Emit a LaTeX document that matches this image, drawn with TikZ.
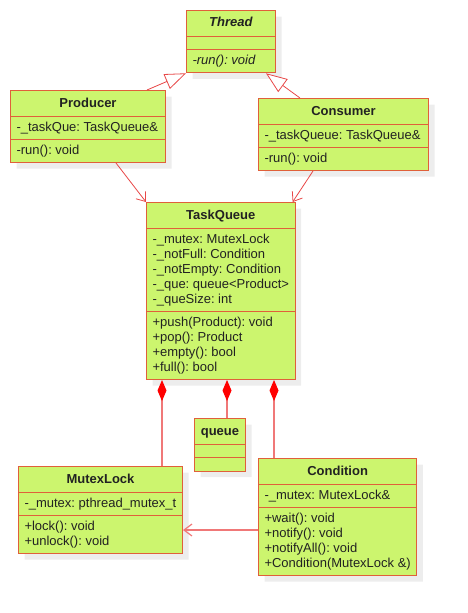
\documentclass[tikz,border=0pt]{standalone}
\usepackage{fontspec}
\setmainfont{Liberation Sans}
\usetikzlibrary{shapes.multipart,arrows.meta,positioning,calc,shadows}

\definecolor{classfill}{HTML}{CCF56E}
\definecolor{classline}{HTML}{E0603A}
\definecolor{relline}{HTML}{E84848}
\definecolor{compline}{HTML}{F07878}
\definecolor{textcol}{HTML}{222222}

\newcommand{\rowstrut}{\rule[-4pt]{0pt}{15pt}}
\newcommand{\titlestrut}{\rule[-5.5pt]{0pt}{18pt}}

\tikzset{
  umlclass/.style={rectangle split, rectangle split parts=3,
    rectangle split part align={center,left,left},
    rectangle split empty part height=3pt, rectangle split empty part depth=0pt,
    draw=classline, fill=classfill, line width=1pt, inner xsep=6pt, inner ysep=3.5pt,
    align=left, anchor=north west, text=textcol, font=\fontsize{13}{15}\selectfont\frenchspacing,
    drop shadow={shadow xshift=6pt, shadow yshift=-6pt, fill=black!7, opacity=1}},
  inherit/.style={draw=relline, line width=0.8pt, -{Triangle[open,length=21pt,width=16pt,fill=white]}},
  navig/.style={draw=relline, line width=0.8pt, -{Straight Barb[length=8pt,width=12pt]}},
  compose/.style={draw=compline, line width=1.2pt, {Diamond[length=21pt,width=9pt,color=red,fill=red]}-},
}

\begin{document}
\begin{tikzpicture}[x=1pt, y=-1pt]
    \useasboundingbox (0,0) rectangle (467,613);

    % Classes
    \node[umlclass, minimum width=89pt] (thread) at (186,10)
        {\titlestrut\textbf{\textit{Thread}}\nodepart{second}\nodepart{third}\rowstrut\textit{-run(): void}};
    \node[umlclass, minimum width=155pt] (producer) at (10,90)
        {\titlestrut\textbf{Producer}\nodepart{second}\rowstrut-\_taskQue: TaskQueue\&\nodepart{third}\rowstrut-run(): void};
    \node[umlclass, minimum width=170pt] (consumer) at (258,98)
        {\titlestrut\textbf{Consumer}\nodepart{second}\rowstrut-\_taskQueue: TaskQueue\&\nodepart{third}\rowstrut-run(): void};
    \node[umlclass, minimum width=148pt] (taskqueue) at (146,202)
        {\titlestrut\textbf{TaskQueue}
         \nodepart{second}\rowstrut-\_mutex: MutexLock\\ \rowstrut-\_notFull: Condition\\ \rowstrut-\_notEmpty: Condition\\
           \rowstrut-\_que: queue<Product>\\ \rowstrut-\_queSize: int
         \nodepart{third}\rowstrut+push(Product): void\\ \rowstrut+pop(): Product\\ \rowstrut+empty(): bool\\ \rowstrut+full(): bool};
    \node[umlclass, minimum width=51pt] (queue) at (194,418)
        {\titlestrut\textbf{queue}\nodepart{second}\nodepart{third}};
    \node[umlclass, minimum width=164pt] (mutexlock) at (18,466)
        {\titlestrut\textbf{MutexLock}\nodepart{second}\rowstrut-\_mutex: pthread\_mutex\_t
         \nodepart{third}\rowstrut+lock(): void\\ \rowstrut+unlock(): void};
    \node[umlclass, minimum width=155pt] (condition) at (258,458)
        {\titlestrut\textbf{Condition}\nodepart{second}\rowstrut-\_mutex: MutexLock\&
         \nodepart{third}\rowstrut+wait(): void\\ \rowstrut+notify(): void\\ \rowstrut+notifyAll(): void\\ \rowstrut+Condition(MutexLock \&)};

    % Inheritance
    \draw[inherit] ([xshift=-19pt]producer.north east) -- (thread.south west);
    \draw[inherit] ([xshift=42pt]consumer.north west) -- ([xshift=-10pt]thread.south east);

    % Associations
    \draw[navig] ([xshift=106pt]producer.south west) -- (taskqueue.north west);
    \draw[navig] ([xshift=55pt]consumer.south west) -- ([xshift=-3pt]taskqueue.north east);

    % Compositions
    \coordinate (tqa) at ([xshift=16pt]taskqueue.south west);
    \coordinate (tqb) at ([xshift=81pt]taskqueue.south west);
    \coordinate (tqc) at ([xshift=128pt]taskqueue.south west);
    \draw[compose] (tqa) -- (tqa |- mutexlock.north);
    \draw[compose] (tqb) -- (tqb |- queue.north);
    \draw[compose] (tqc) -- (tqc |- condition.north);

    % Condition uses MutexLock
    \coordinate (lockin) at ([yshift=24pt]mutexlock.south east);
    \draw[navig, draw=compline, line width=1.2pt] (condition.west |- lockin) -- (lockin);
\end{tikzpicture}
\end{document}
